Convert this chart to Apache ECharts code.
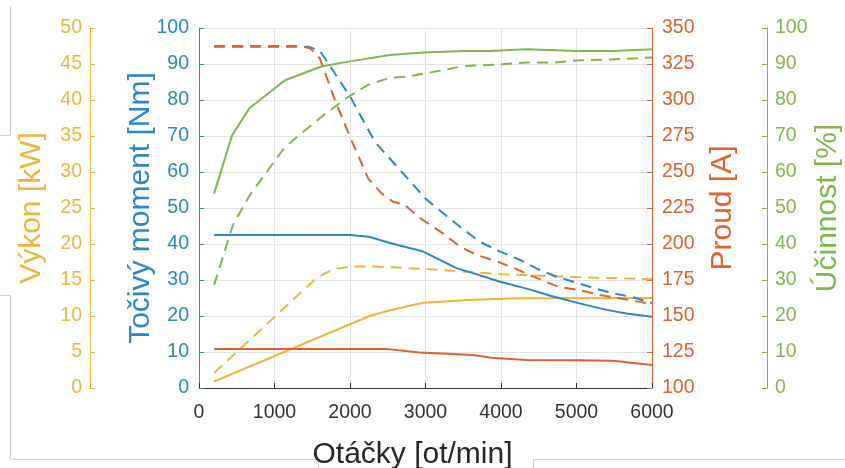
<!DOCTYPE html>
<html>
<head>
<meta charset="utf-8">
<script src="https://cdn.jsdelivr.net/npm/echarts@6/dist/echarts.min.js"></script>
<style>
html,body{margin:0;padding:0;background:#fff;}
#chart{width:845px;height:468px;}
</style>
</head>
<body>
<div id="chart"></div>
<script>
// ---- data ----
const xTicks = [0, 1000, 2000, 3000, 4000, 5000, 6000];

// Točivý moment [Nm] – max (dashed) and continuous (solid)
const torqueMaxRpm = [200, 1450, 1600, 2000, 2330, 2660, 3000, 3260, 3480, 3720, 3990, 4250, 4470, 4710, 4960, 5240, 5490, 5750, 6000];
const torqueMaxVal = [94.8, 94.8, 93.7, 81.0, 68.4, 60.6, 52.6, 48.1, 44.4, 40.6, 37.9, 35.6, 33.2, 31.1, 29.5, 27.7, 26.3, 25.2, 23.6];
const torqueContRpm = [200, 2000, 2250, 2530, 2970, 3410, 3630, 3990, 4340, 4690, 5040, 5400, 5660, 6000];
const torqueContVal = [42.5, 42.5, 42.0, 40.3, 37.9, 33.3, 31.9, 29.5, 27.6, 25.4, 23.5, 21.7, 20.7, 19.8];

// Výkon [kW]
const powerMaxRpm = [200, 1560, 1780, 2000, 2250, 3060, 4000, 5000, 6000];
const powerMaxVal = [2.1, 15.3, 16.5, 16.85, 16.9, 16.5, 15.8, 15.4, 15.1];
const powerContRpm = [200, 2260, 2530, 2970, 3630, 4250, 6000];
const powerContVal = [0.9, 10.0, 10.8, 11.85, 12.25, 12.45, 12.5];

// Proud [A]
const currentMaxRpm = [200, 1330, 1470, 1600, 1800, 2020, 2240, 2420, 2570, 2730, 2900, 3230, 3460, 3680, 3960, 4180, 4430, 4760, 5040, 5310, 5570, 6000];
const currentMaxVal = [337.5, 337.5, 336, 329, 300, 272, 245.6, 235, 229.4, 227, 219, 207.4, 198.1, 192.4, 187.7, 183.1, 177.3, 170.3, 168, 164.6, 162.3, 158.2];
const currentContRpm = [200, 2500, 2920, 3630, 3870, 4340, 5000, 5480, 6000];
const currentContVal = [127, 127, 124.7, 122.9, 121, 119.4, 119.2, 119, 116];

// Účinnost [%]
const effMaxRpm = [200, 440, 670, 1140, 1620, 2020, 2530, 2970, 3540, 3850, 4340, 5000, 5480, 6000];
const effMaxVal = [54.0, 70.3, 77.8, 85.5, 89.3, 90.8, 92.5, 93.2, 93.6, 93.6, 94.1, 93.6, 93.6, 94.1];
const effContRpm = [200, 450, 670, 1140, 1650, 1980, 2240, 2530, 2750, 3060, 3500, 3990, 4340, 4700, 5000, 5480, 6000];
const effContVal = [28.6, 45.3, 53.5, 67.0, 75.8, 80.9, 84.2, 86.2, 86.5, 87.6, 89.4, 89.9, 90.4, 90.4, 91.0, 91.3, 91.8];

// ---- colours & fonts ----
const cBlue = '#2b87cb', cRed = '#e0622c', cYel = '#f0b43a', cGreen = '#7db84a';
const FONT = '"Liberation Sans", Arial, Helvetica, sans-serif';
const tickFs = 19.5, nameFs = 30;

function pairs(xs, ys){ return xs.map((x,i)=>[x, ys[i]]); }

function yAx(opts){
  const col = opts.color;
  return {
    type:'value', position: opts.position, offset: opts.offset,
    min: opts.min, max: opts.max, interval: opts.interval,
    name: opts.name, nameLocation:'middle', nameRotate:90, nameGap: opts.nameGap,
    nameMoveOverlap:false,
    nameTextStyle:{color:col, fontSize:nameFs, fontFamily:FONT},
    axisLine:{show:true, onZero:false, lineStyle:{color:col, width:1}},
    axisTick:{show:true, inside:true, length:5, lineStyle:{color:col}},
    axisLabel:{color:col, fontSize:tickFs, fontFamily:FONT, margin: opts.margin},
    splitLine:{show: !!opts.split, lineStyle:{color:'#e3e3e3', width:1}}
  };
}

const chart = echarts.init(document.getElementById('chart'), null, {renderer:'canvas'});
const dash = [11, 7];
function line(name, data, yIdx, color, dashed){
  return {
    name, type:'line', data, yAxisIndex:yIdx, showSymbol:false, symbol:'none',
    smooth:false, lineStyle:{color, width:2, type: dashed ? dash : 'solid'},
    itemStyle:{color}, z: 3
  };
}

const grayLine = {stroke:'#cfcfcf', lineWidth:1};
chart.setOption({
  animation:false,
  backgroundColor:'#ffffff',
  textStyle:{fontFamily:FONT},
  grid:{left:199, right:193, top:28, bottom:80, containLabel:false, outerBoundsMode:'none'},
  graphic:[
    {type:'line', shape:{x1:10.5,y1:6,x2:10.5,y2:135}, style:grayLine, silent:true},
    {type:'line', shape:{x1:0,y1:135.5,x2:10.5,y2:135.5}, style:grayLine, silent:true},
    {type:'line', shape:{x1:0,y1:295.5,x2:10.5,y2:295.5}, style:grayLine, silent:true},
    {type:'line', shape:{x1:10.5,y1:295,x2:10.5,y2:459}, style:grayLine, silent:true},
    {type:'line', shape:{x1:10.5,y1:459.5,x2:318,y2:459.5}, style:grayLine, silent:true},
    {type:'line', shape:{x1:318.5,y1:459,x2:318.5,y2:468}, style:grayLine, silent:true},
    {type:'line', shape:{x1:533.5,y1:459.5,x2:845,y2:459.5}, style:grayLine, silent:true},
    {type:'line', shape:{x1:533.5,y1:459,x2:533.5,y2:468}, style:grayLine, silent:true}
  ],
  xAxis:{
    type:'value', min:0, max:6000, interval:1000,
    name:'Otáčky [ot/min]', nameLocation:'middle', nameGap:52, nameMoveOverlap:false,
    nameTextStyle:{color:'#262626', fontSize:nameFs, fontFamily:FONT, padding:[0,26,0,0]},
    axisLine:{show:true, onZero:false, lineStyle:{color:'#333333', width:1}},
    axisTick:{show:true, inside:true, length:5, lineStyle:{color:'#333333'}},
    axisLabel:{color:'#333333', fontSize:tickFs, fontFamily:FONT, margin:15,
      formatter: v => xTicks.includes(v) ? String(v) : ''},
    splitLine:{show:true, lineStyle:{color:'#e3e3e3', width:1}}
  },
  yAxis:[
    yAx({position:'left', offset:0, min:0, max:100, interval:10, color:cBlue,
         name:'Točivý moment [Nm]', nameGap:43, margin:10, split:true}),
    yAx({position:'left', offset:109, min:0, max:50, interval:5, color:cYel,
         name:'Výkon [kW]', nameGap:43, margin:8}),
    yAx({position:'right', offset:0, min:100, max:350, interval:25, color:cRed,
         name:'Proud [A]', nameGap:56, margin:10}),
    yAx({position:'right', offset:115, min:0, max:100, interval:10, color:cGreen,
         name:'Účinnost [%]', nameGap:46, margin:8})
  ],
  series:[
    line('Výkon max', pairs(powerMaxRpm, powerMaxVal), 1, cYel, true),
    line('Výkon trvalý', pairs(powerContRpm, powerContVal), 1, cYel, false),
    line('Moment max', pairs(torqueMaxRpm, torqueMaxVal), 0, cBlue, true),
    line('Moment trvalý', pairs(torqueContRpm, torqueContVal), 0, cBlue, false),
    line('Proud max', pairs(currentMaxRpm, currentMaxVal), 2, cRed, true),
    line('Proud trvalý', pairs(currentContRpm, currentContVal), 2, cRed, false),
    line('Účinnost max', pairs(effMaxRpm, effMaxVal), 3, cGreen, false),
    line('Účinnost trvalá', pairs(effContRpm, effContVal), 3, cGreen, true)
  ]
});
</script>
</body>
</html>
